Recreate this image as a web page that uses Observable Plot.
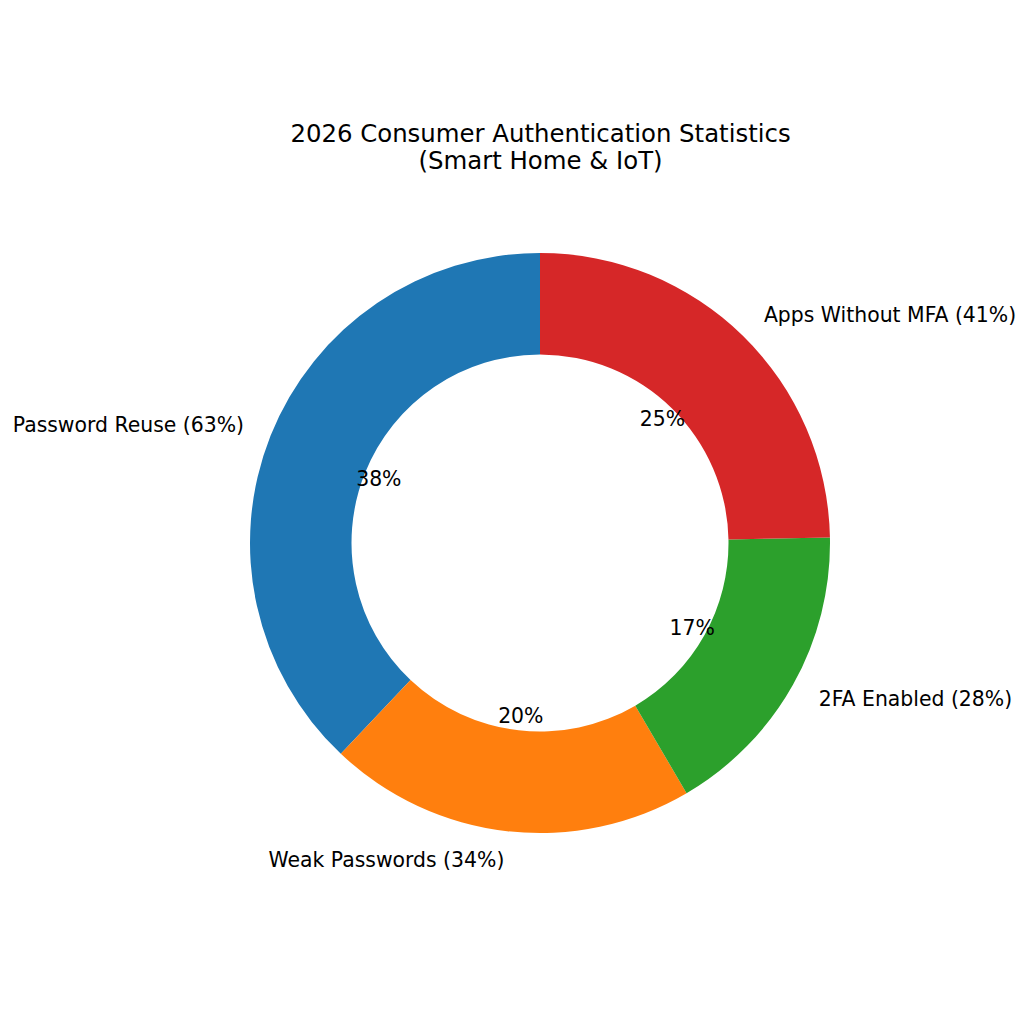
<!DOCTYPE html>
<html>
<head>
<meta charset="utf-8">
<script src="https://cdn.jsdelivr.net/npm/d3@7"></script>
<script src="https://cdn.jsdelivr.net/npm/@observablehq/plot@0.6"></script>
<style>
  html, body { margin: 0; padding: 0; background: #fff; }
  #chart svg { display: block; }
</style>
</head>
<body>
<div id="chart"></div>
<script>
const categories = ["Password Reuse", "Weak Passwords", "2FA Enabled", "Apps Without MFA"];
const values = [63, 34, 28, 41];
const colors = ["#1f77b4", "#ff7f0e", "#2ca02c", "#d62728"];
const chartTitle = "2026 Consumer Authentication Statistics\n(Smart Home & IoT)";

const total = d3.sum(values);
let cum = 0;
const slices = categories.map((c, i) => {
  const start = cum / total;
  cum += values[i];
  const end = cum / total;
  // counterclockwise from 12 o'clock (math angle 90°)
  const mid = Math.PI / 2 + ((start + end) / 2) * 2 * Math.PI;
  return {
    category: c,
    value: values[i],
    color: colors[i],
    a0: -start * 2 * Math.PI,
    a1: -end * 2 * Math.PI,
    lx: 1.1 * Math.cos(mid),
    ly: 1.1 * Math.sin(mid),
    px: 0.6 * Math.cos(mid),
    py: 0.6 * Math.sin(mid),
    label: `${c} (${values[i]}%)`,
    pct: `${Math.round(values[i] / total * 100)}%`
  };
});

const R = 290, CX = 540, CY = 543, W = 1024, H = 1024;
const font = "DejaVu Sans, sans-serif";

const wedges = Plot.dot(slices, {
  x: () => 0, y: () => 0,
  render(index, scales, values, dimensions, context) {
    const cx = scales.x(0), cy = scales.y(0);
    const r = scales.x(1) - scales.x(0);
    const arc = d3.arc().innerRadius(r * 0.65).outerRadius(r);
    const g = d3.create("svg:g").attr("transform", `translate(${cx},${cy})`);
    for (const i of index) {
      const s = slices[i];
      g.append("path")
        .attr("d", arc({startAngle: s.a0, endAngle: s.a1}))
        .attr("fill", s.color);
    }
    return g.node();
  }
});

const plot = Plot.plot({
  width: W, height: H,
  margin: 0,
  x: {domain: [-CX / R, (W - CX) / R], axis: null},
  y: {domain: [-(H - CY) / R, CY / R], axis: null},
  style: {fontFamily: font, background: "#fff"},
  marks: [
    wedges,
    Plot.text(slices.filter(d => d.lx < 0), {x: "lx", y: "ly", text: "label", textAnchor: "end", fontSize: 20.4, fill: "#000"}),
    Plot.text(slices.filter(d => d.lx >= 0), {x: "lx", y: "ly", text: "label", textAnchor: "start", fontSize: 20.4, fill: "#000"}),
    Plot.text(slices, {x: "px", y: "py", text: "pct", fontSize: 20.4, fill: "#000"}),
    Plot.text([chartTitle], {x: () => 0, y: () => (CY - 146.5) / R, text: d => d, fontSize: 24.4, lineHeight: 1.11, fill: "#000"})
  ]
});
document.getElementById("chart").appendChild(plot);
</script>
</body>
</html>
